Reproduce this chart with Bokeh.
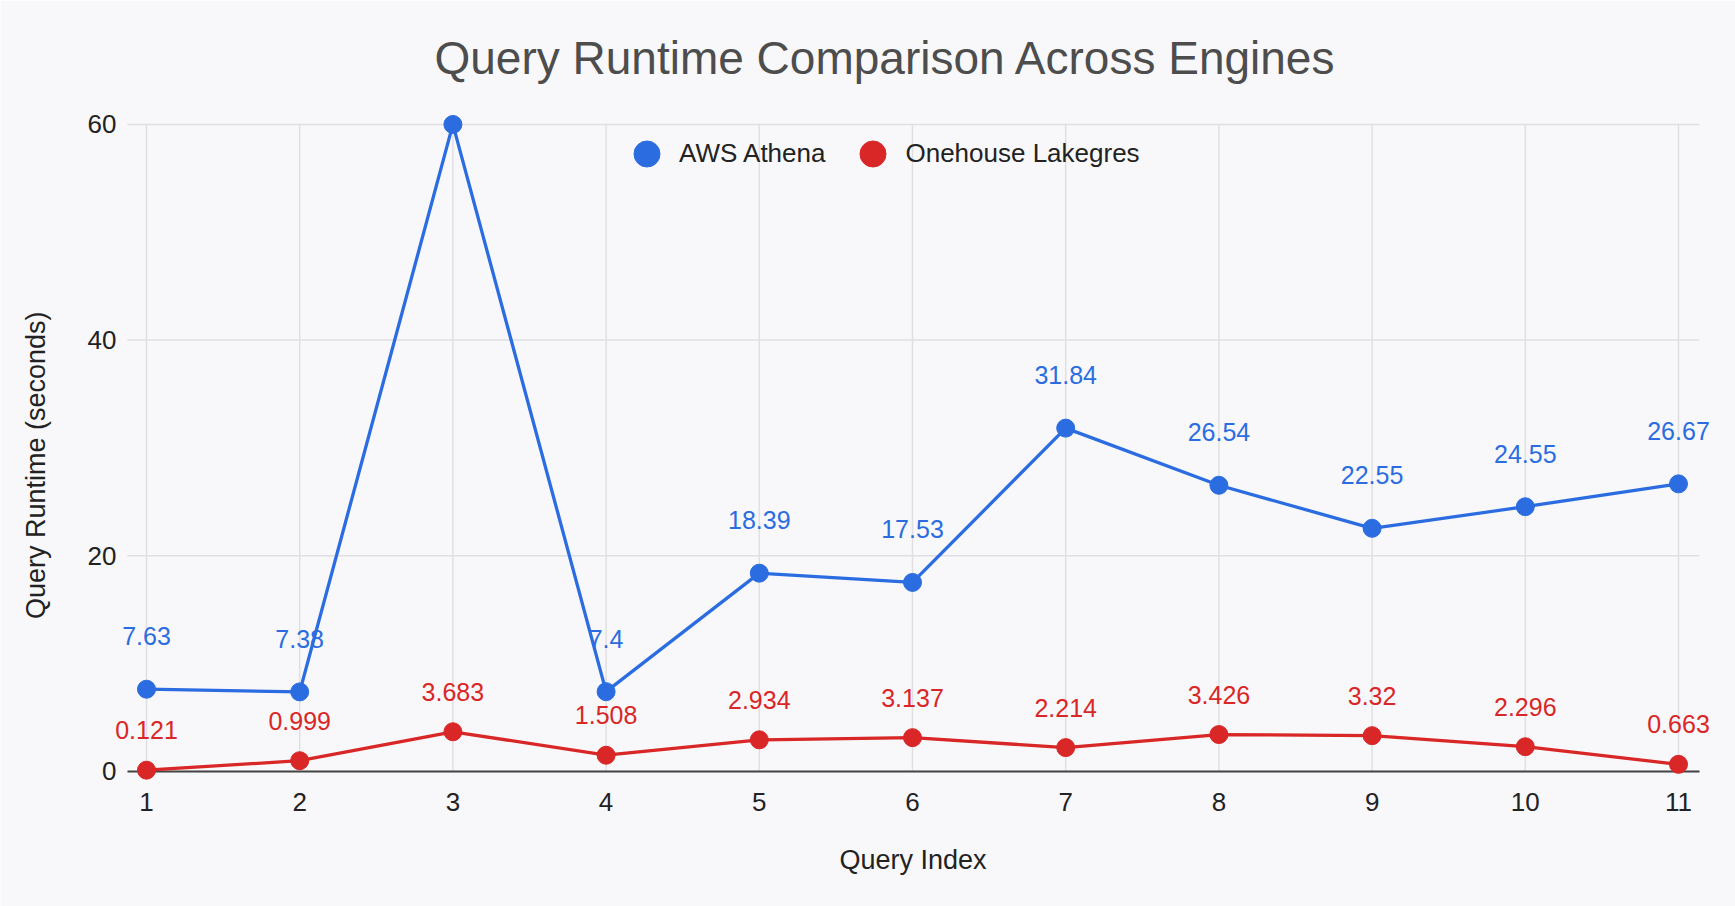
import math

from bokeh.core.properties import value
from bokeh.embed import file_html
from bokeh.models import (ColumnDataSource, FixedTicker, Label, LabelSet, Legend,
                          LegendItem, Range1d, Title)
from bokeh.plotting import figure
from bokeh.resources import INLINE

queries = [1, 2, 3, 4, 5, 6, 7, 8, 9, 10, 11]
athena = [7.63, 7.38, 60, 7.4, 18.39, 17.53, 31.84, 26.54, 22.55, 24.55, 26.67]
lakegres = [0.121, 0.999, 3.683, 1.508, 2.934, 3.137, 2.214, 3.426, 3.32, 2.296, 0.663]
athena_labels = ["7.63", "7.38", "", "7.4", "18.39", "17.53", "31.84", "26.54",
                 "22.55", "24.55", "26.67"]
lakegres_labels = ["0.121", "0.999", "3.683", "1.508", "2.934", "3.137", "2.214",
                   "3.426", "3.32", "2.296", "0.663"]
y_ticks = [0, 20, 40, 60]
y_tick_labels = ["0", "20", "40", "60"]

BLUE = "#2b6de0"
RED = "#d92626"
BG = "#f8f8fa"
GRID = "#e0e0e2"
TXT = "#222222"
FONT = "Liberation Sans"

# the frame spans the whole canvas so that edge labels are not clipped;
# the visible chart area runs from X_LO to X_HI
X_LO, X_HI = 0.876, 11.137

src_a = ColumnDataSource(dict(x=queries, y=athena, label=athena_labels))
src_l = ColumnDataSource(dict(x=queries, y=lakegres, label=lakegres_labels))
src_t = ColumnDataSource(dict(x=[X_LO] * len(y_ticks), x1=[X_HI] * len(y_ticks),
                              y=y_ticks, label=y_tick_labels))

p = figure(width=1735, height=906, output_backend="svg", toolbar_location=None,
           tools="", x_range=Range1d(0.047, 11.372), y_range=Range1d(-1.3, 61.2),
           background_fill_color=BG, border_fill_color=BG,
           min_border_left=0, min_border_right=0, min_border_top=111,
           min_border_bottom=121)
p.outline_line_color = None

p.title.text = "Query Runtime Comparison Across Engines"
p.title.text_font = FONT
p.title.text_font_size = "46px"
p.title.text_font_style = "normal"
p.title.text_color = "#4d4d4d"
p.title.align = "left"
p.title.offset = 434
p.title.standoff = 56

# x axis (below the frame)
p.xaxis.ticker = FixedTicker(ticks=queries)
p.xaxis.bounds = (X_LO, X_HI)
p.xaxis.major_label_text_font = FONT
p.xaxis.major_label_text_font_size = "26px"
p.xaxis.major_label_text_color = TXT
p.xaxis.major_tick_line_color = None
p.xaxis.minor_tick_line_color = None
p.xaxis.axis_line_color = None
p.xaxis.major_label_standoff = 1
p.yaxis.visible = False

# x axis title, centred under the chart area rather than the whole frame
p.add_layout(Title(text="Query Index", align="left", offset=839, standoff=58,
                   text_font=FONT, text_font_size="27px",
                   text_font_style="normal", text_color=TXT), "below")

# grid
p.xgrid.visible = False
p.ygrid.visible = False
p.segment(x0="x", y0="y", x1="x1", y1="y", source=src_t,
          line_color=GRID, line_width=1.5)
p.segment(x0=queries, y0=[y_ticks[0]] * len(queries), x1=queries,
          y1=[y_ticks[-1]] * len(queries), line_color=GRID, line_width=1.5)
p.segment(x0=[X_LO], y0=[y_ticks[0]], x1=[X_HI], y1=[y_ticks[0]],
          line_color="#444444", line_width=2)

# y tick labels and y axis title
p.text(x="x", y="y", text="label", source=src_t, x_offset=-11,
       text_align="right", text_baseline="middle", text_font=value(FONT),
       text_font_size="26px", text_color=TXT)
p.add_layout(Label(x=35, y=28.4, x_units="screen", y_units="data",
                   text="Query Runtime (seconds)", angle=math.pi / 2,
                   text_align="center", text_baseline="middle",
                   text_font=FONT, text_font_size="27px", text_color=TXT))

# series
p.line("x", "y", source=src_a, line_color=BLUE, line_width=3.3)
pts_a = p.scatter("x", "y", source=src_a, size=18, fill_color=BLUE, line_color=BLUE)
p.line("x", "y", source=src_l, line_color=RED, line_width=3.3)
pts_l = p.scatter("x", "y", source=src_l, size=18, fill_color=RED, line_color=RED)

p.add_layout(LabelSet(x="x", y="y", text="label", source=src_a, y_offset=53,
                      text_align="center", text_baseline="middle",
                      text_font=value(FONT), text_font_size="25px",
                      text_color=BLUE))
p.add_layout(LabelSet(x="x", y="y", text="label", source=src_l, y_offset=40,
                      text_align="center", text_baseline="middle",
                      text_font=value(FONT), text_font_size="25px",
                      text_color=RED))

legend = Legend(items=[LegendItem(label="AWS Athena", renderers=[pts_a]),
                       LegendItem(label="Onehouse Lakegres", renderers=[pts_l])],
                orientation="horizontal", location=(614, 599),
                glyph_width=65, glyph_height=65, label_standoff=0, spacing=15,
                padding=0, margin=0, border_line_color=None,
                background_fill_alpha=0, label_text_font=FONT,
                label_text_font_size="26px", label_text_color=TXT)
p.add_layout(legend)

open("out.html", "w").write(file_html(p, INLINE))
